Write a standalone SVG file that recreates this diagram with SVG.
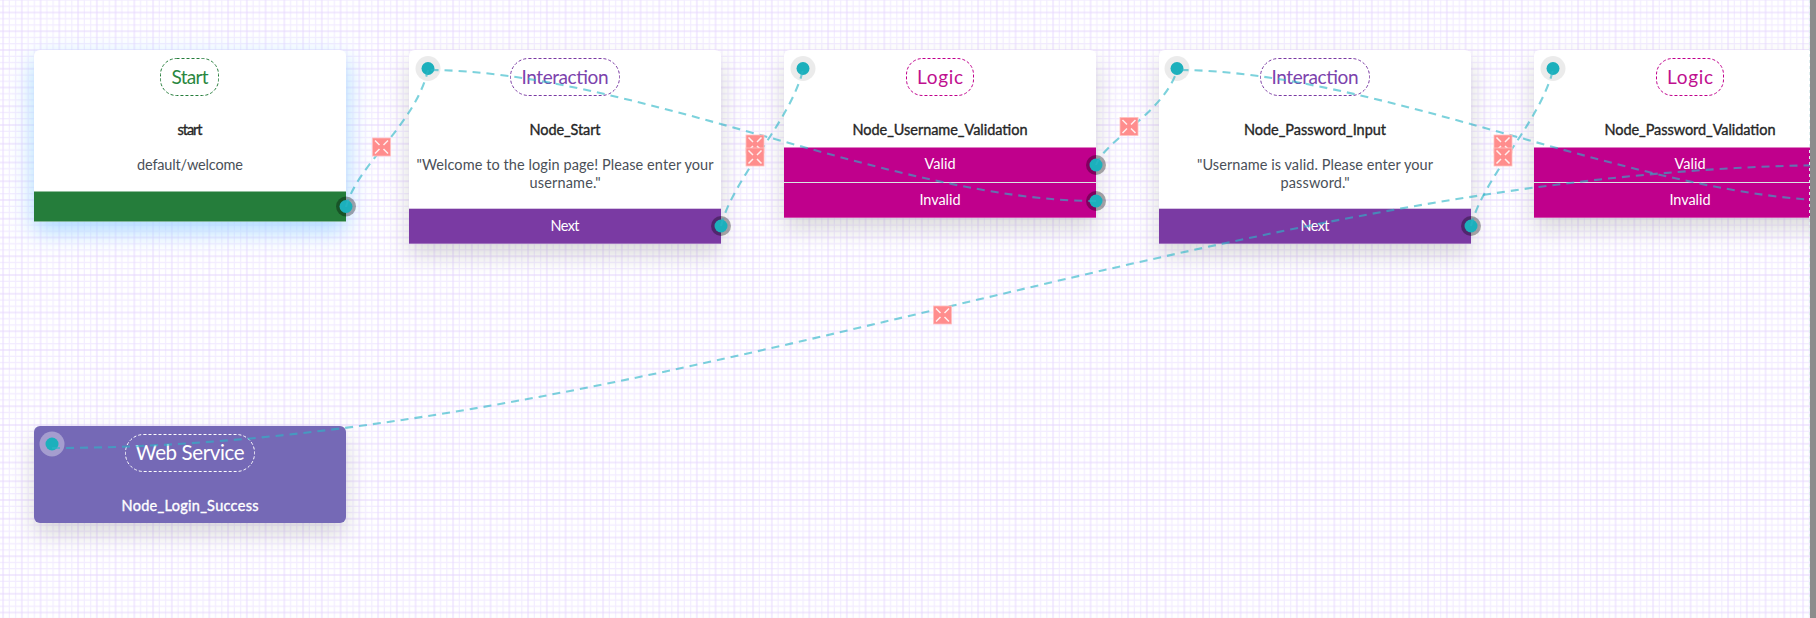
<svg xmlns="http://www.w3.org/2000/svg" width="1816" height="618" viewBox="0 0 1816 618">
<style>
text{font-family:"Lato","Noto Sans","Liberation Sans",sans-serif;text-anchor:middle}
.title{font-size:14.500px;font-weight:400;fill:#262626;stroke:#262626;stroke-width:.35}
.body{font-size:14.500px;fill:#4a5058}
.bar{font-size:14.500px;fill:#fff}
.pill{font-size:19px;font-weight:400}
.dash{fill:none;stroke-width:1;stroke-dasharray:3 2}
.conn{fill:none;stroke:#2cb6c6;stroke-opacity:.62;stroke-width:2.100;stroke-dasharray:8 6}
.pin{fill:#1cb0bc}
.halo{fill:#000;fill-opacity:.08}
.out{fill:#000;fill-opacity:.33}
</style>
<defs>
<pattern id="grid" width="18.75" height="18.75" x="3.1" y="12.5" patternUnits="userSpaceOnUse">
<path d="M0 6.25H18.75M0 12.5H18.75" stroke="#f2ebff" stroke-width="1.2"/>
<path d="M6.25 0V18.75M12.5 0V18.75" stroke="#f3edff" stroke-width="1.2"/>
<path d="M0 0V18.75M18.75 0V18.75" stroke="#ebdfff" stroke-width="1.2"/>
<path d="M0 0H18.75M0 18.75H18.75" stroke="#e6d6fd" stroke-width="1.2"/>
</pattern>
<filter id="glow" x="-25%" y="-40%" width="150%" height="200%"><feDropShadow dx="0" dy="9" stdDeviation="12" flood-color="#9fd4ff" flood-opacity=".9"/></filter>
<filter id="shade" x="-25%" y="-40%" width="150%" height="200%"><feDropShadow dx="0" dy="11" stdDeviation="11" flood-color="#000" flood-opacity=".14"/></filter>
<g id="mk">
<rect x="-9" y="-9" width="18" height="18" fill="#ff8d8d" stroke="#ffc0c0" stroke-width=".8"/>
<path d="M-6.5-6.5L-2-2M6.5-6.5L2-2M-6.5 6.5L-2 2M6.5 6.5L2 2" stroke="#fff" stroke-opacity=".85" stroke-width="1.5" fill="none"/>
</g>
</defs>
<rect width="1816" height="618" fill="#fff"/>
<rect width="1816" height="618" fill="url(#grid)"/>

<g id="node-start">
<path d="M40 50H340a6 6 0 0 1 6 6V221.500H34V56a6 6 0 0 1 6-6Z" fill="#fff" filter="url(#glow)"/>
<rect x="34" y="191.500" width="312" height="30" fill="#257d3b"/>
<rect class="dash" x="160.500" y="58.500" width="58" height="37" rx="16" stroke="#257d3b"/>
<text class="pill" x="190" y="84" fill="#2a873f" textLength="37">Start</text>
<text class="title" x="190" y="135" textLength="25">start</text>
<text class="body" x="190" y="170" textLength="106">default/welcome</text>
<circle class="out" cx="346" cy="206.500" r="10"/><circle class="pin" cx="346" cy="206.500" r="6.500"/>
</g>

<g id="node-node-start">
<path d="M415 50H715a6 6 0 0 1 6 6V243.700H409V56a6 6 0 0 1 6-6Z" fill="#fff" filter="url(#shade)"/>
<rect x="409" y="208.700" width="312" height="35" fill="#7a3aa3"/>
<rect class="dash" x="510.500" y="58.500" width="109" height="37" rx="18" stroke="#7a3aa3"/>
<text class="pill" x="565" y="84" fill="#7c42ad" textLength="87">Interaction</text>
<text class="title" x="565" y="135" textLength="71">Node_Start</text>
<text class="body" x="565" y="170" textLength="297">"Welcome to the login page! Please enter your</text>
<text class="body" x="565" y="188" textLength="71">username."</text>
<text class="bar" x="565" y="231" textLength="29">Next</text>
<circle class="halo" cx="428" cy="68.500" r="12.500"/><circle class="pin" cx="428" cy="68.500" r="6.500"/>
<circle class="out" cx="721" cy="226" r="10"/><circle class="pin" cx="721" cy="226" r="6.500"/>
</g>

<g id="node-username-validation">
<path d="M790 50H1090a6 6 0 0 1 6 6V217.700H784V56a6 6 0 0 1 6-6Z" fill="#fff" filter="url(#shade)"/>
<rect x="784" y="147.500" width="312" height="70.200" fill="#c0008c"/>
<path d="M784 182.500H1096" stroke="#d9e6e2" stroke-width="1"/>
<rect class="dash" x="906.500" y="58.500" width="67" height="37" rx="16" stroke="#c0008c"/>
<text class="pill" x="940" y="84" fill="#c0108f" textLength="46">Logic</text>
<text class="title" x="940" y="135" textLength="175">Node_Username_Validation</text>
<text class="bar" x="940" y="169" textLength="31">Valid</text>
<text class="bar" x="940" y="205" textLength="41">Invalid</text>
<circle class="halo" cx="803" cy="68.500" r="12.500"/><circle class="pin" cx="803" cy="68.500" r="6.500"/>
<circle class="out" cx="1096" cy="165" r="10"/><circle class="pin" cx="1096" cy="165" r="6.500"/>
<circle class="out" cx="1096" cy="201" r="10"/><circle class="pin" cx="1096" cy="201" r="6.500"/>
</g>

<g id="node-password-input">
<path d="M1165 50H1465a6 6 0 0 1 6 6V243.700H1159V56a6 6 0 0 1 6-6Z" fill="#fff" filter="url(#shade)"/>
<rect x="1159" y="208.700" width="312" height="35" fill="#7a3aa3"/>
<rect class="dash" x="1260.500" y="58.500" width="109" height="37" rx="18" stroke="#7a3aa3"/>
<text class="pill" x="1315" y="84" fill="#7c42ad" textLength="87">Interaction</text>
<text class="title" x="1315" y="135" textLength="142">Node_Password_Input</text>
<text class="body" x="1315" y="170" textLength="236">"Username is valid. Please enter your</text>
<text class="body" x="1315" y="188" textLength="69">password."</text>
<text class="bar" x="1315" y="231" textLength="29">Next</text>
<circle class="halo" cx="1177" cy="68.500" r="12.500"/><circle class="pin" cx="1177" cy="68.500" r="6.500"/>
<circle class="out" cx="1471" cy="226" r="10"/><circle class="pin" cx="1471" cy="226" r="6.500"/>
</g>

<g id="node-password-validation">
<path d="M1540 50H1840a6 6 0 0 1 6 6V217.700H1534V56a6 6 0 0 1 6-6Z" fill="#fff" filter="url(#shade)"/>
<rect x="1534" y="147.500" width="312" height="70.200" fill="#c0008c"/>
<path d="M1534 182.500H1846" stroke="#d9e6e2" stroke-width="1"/>
<rect class="dash" x="1656.500" y="58.500" width="67" height="37" rx="16" stroke="#c0008c"/>
<text class="pill" x="1690" y="84" fill="#c0108f" textLength="46">Logic</text>
<text class="title" x="1690" y="135" textLength="171">Node_Password_Validation</text>
<text class="bar" x="1690" y="169" textLength="31">Valid</text>
<text class="bar" x="1690" y="205" textLength="41">Invalid</text>
<circle class="halo" cx="1553" cy="68.500" r="12.500"/><circle class="pin" cx="1553" cy="68.500" r="6.500"/>
</g>

<g id="node-login-success">
<rect x="34" y="426" width="312" height="97" rx="6" fill="#7469b6" filter="url(#shade)"/>
<rect class="dash" x="125.500" y="434.500" width="129" height="37" rx="18" stroke="#fff"/>
<text x="190" y="460" font-size="20.500" fill="#fff" textLength="109">Web Service</text>
<text class="title" x="190" y="511" style="fill:#fff;stroke:#fff" textLength="137">Node_Login_Success</text>
<circle cx="52" cy="444" r="12.500" fill="#fff" fill-opacity=".35"/><circle class="pin" cx="52" cy="444" r="6.500"/>
</g>

<g id="connectors">
<path class="conn" d="M346 207C358 163 415 125 428 70"/>
<path class="conn" d="M721 226C733 178 790 122 803 70"/>
<path class="conn" d="M1096 165C1105 140 1165 112 1177 70"/>
<path class="conn" d="M1471 226C1483 178 1540 122 1553 70"/>
<path class="conn" d="M1096 201C896 201 628 70 428 70"/>
<path class="conn" d="M1846 201C1646 201 1378 70 1177 70"/>
<path class="conn" d="M52 448C652 448 1246 165 1846 165"/>
<use href="#mk" x="381.500" y="147"/>
<use href="#mk" x="755" y="144"/>
<use href="#mk" x="755" y="157"/>
<use href="#mk" x="1129" y="126.500"/>
<use href="#mk" x="1503" y="144"/>
<use href="#mk" x="1503" y="157"/>
<use href="#mk" x="942.500" y="315"/>
</g>

<rect x="1810" y="0" width="6" height="618" fill="#8c8c8c"/>
<path d="M1809.500 0V618" stroke="#dfeef0" stroke-width="1" stroke-dasharray="3 3"/>
</svg>
